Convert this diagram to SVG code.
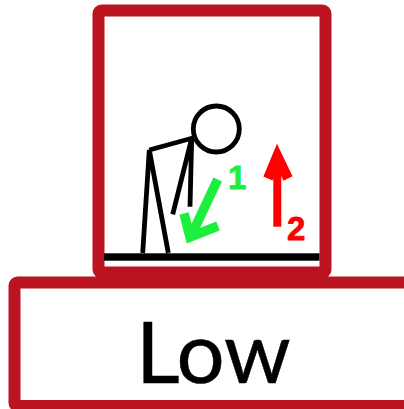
<svg xmlns="http://www.w3.org/2000/svg" width="404" height="409" viewBox="0 0 404 409">
<style>
.box{fill:#fff;stroke:#bb131f;stroke-width:12;stroke-linejoin:round}
.fig{fill:none;stroke:#000;stroke-width:4.8;stroke-linecap:butt;stroke-linejoin:miter}
.arr{fill:none;stroke-linecap:butt;stroke-linejoin:miter}
.num{font-family:"Liberation Sans",Arial,sans-serif;font-weight:700;font-size:33px;stroke-width:.8}
</style>
<rect width="404" height="409" fill="#fff"/>
<g id="upper-box"><rect class="box" x="98.5" y="10.5" width="227" height="262" rx="3"/></g>
<g id="lower-box"><rect class="box" x="14.5" y="282.5" width="400" height="123.5" rx="3"/>
<text x="136" y="382.7" font-family="Lato,'Open Sans',sans-serif" font-size="85" fill="#000" stroke="#000" stroke-width=".5">Low</text></g>
<g id="figure">
<rect x="104" y="253.3" width="215.5" height="7.4" fill="#000"/>
<circle class="fig" cx="216.3" cy="129" r="23"/>
<path class="fig" d="M142.7 253L149.3 150L168.3 253M149.3 150L191.7 138.3L172.7 214.3M191.7 138.3L190 206.7"/>
</g>
<g id="connectors">
<path class="arr" stroke="#1cee3e" stroke-width="9.5" d="M217.7 179.5L191 236M184 213.5L190 237L218 226"/>
<path class="arr" stroke="#ff0000" stroke-width="8" d="M277.3 226.7V156"/>
<path class="arr" stroke="#ff0000" stroke-width="10" d="M268 178.5L277.3 156L288 178.5"/>
</g>
<g id="labels">
<text class="num" x="228" y="189" fill="#1cee3e" stroke="#1cee3e">1</text>
<text class="num" x="287" y="240" fill="#ff0000" stroke="#ff0000">2</text>
</g>
</svg>
